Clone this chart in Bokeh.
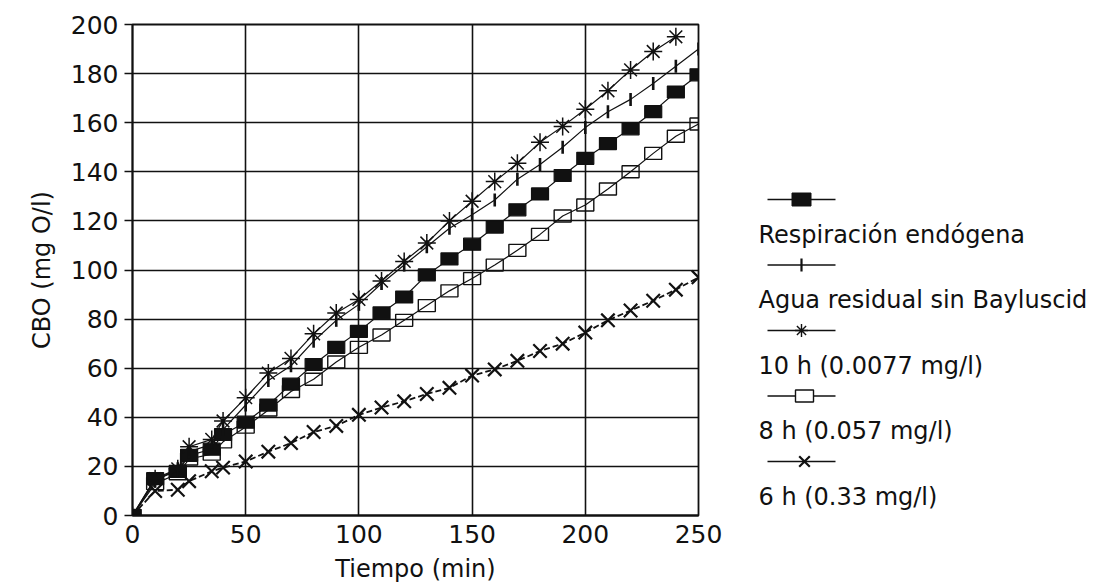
import numpy as np
from bokeh.plotting import figure
from bokeh.layouts import row
from bokeh.models import Range1d, FixedTicker
from bokeh.core.properties import value
from bokeh.embed import file_html
from bokeh.resources import INLINE

# Sampling times (min)
tiempo = [0, 10, 20, 25, 35, 40, 50, 60, 70, 80, 90, 100, 110, 120, 130, 140,
          150, 160, 170, 180, 190, 200, 210, 220, 230, 240, 250]

# CBO (mg O/l) for each trial
resp_endogena = [0, 15, 18, 24.5, 27, 33, 38, 45, 53.5, 61.5, 68.5, 75, 82.5, 89,
                 98, 104.5, 110.5, 117.5, 124.5, 131, 138.5, 145.5, 151.5, 157.5,
                 164.5, 172.5, 179.5]
agua_sin_bayluscid = [0, 14, 19, 26, 29, 35, 45, 55, 61, 71, 79.5, 86, 94.5, 102,
                      109.5, 117, 122.5, 128.5, 137, 143, 150, 158, 164.5, 169.5,
                      176, 183, 190]
h10 = [0, 15, 19, 28, 31, 38.5, 48, 58, 64, 74, 82.5, 88, 95.5, 103.5, 111, 120,
       128, 136, 143.5, 152, 158.5, 165.5, 173, 181.5, 189, 195]
h8 = [0, 13, 17, 23, 25, 30, 36, 43, 50.5, 55.5, 62.5, 68.5, 73.5, 79.5, 85.5,
      91.5, 96.5, 102, 108, 114.5, 122, 126.5, 133, 140, 147.5, 154.5, 159.5]
h6 = [0, 10, 10.5, 14, 18, 19.5, 22, 26, 29.5, 34, 36.5, 41, 44, 46.5, 49.5, 52,
      57, 59.5, 63, 67, 70, 74.5, 79.5, 83.5, 87.5, 92, 97]

series_labels = ["Respiración endógena", "Agua residual sin Bayluscid",
                 "10 h (0.0077 mg/l)", "8 h (0.057 mg/l)", "6 h (0.33 mg/l)"]

x_ticks = [0, 50, 100, 150, 200, 250]
y_ticks = list(range(0, 201, 20))

FONT = "DejaVu Sans"
INK = "#111111"

p = figure(width=740, height=585, output_backend="svg", toolbar_location=None,
           x_range=Range1d(0, 250), y_range=Range1d(0, 200),
           min_border_left=132, min_border_right=42, min_border_top=24,
           min_border_bottom=70)
p.background_fill_color = "white"
p.border_fill_color = "white"
p.outline_line_color = INK
p.outline_line_width = 1.8

for ax in (p.xaxis[0], p.yaxis[0]):
    ax.axis_line_color = INK
    ax.axis_line_width = 1.8
    ax.major_tick_line_color = INK
    ax.major_tick_line_width = 1.6
    ax.minor_tick_line_color = None
    ax.major_tick_in = 0
    ax.major_label_text_font = FONT
    ax.major_label_text_font_size = "25px"
    ax.major_label_text_color = INK
    ax.axis_label_text_font = FONT
    ax.axis_label_text_font_style = "normal"
    ax.axis_label_text_color = INK

p.xaxis.axis_label_text_font_size = "24px"
p.yaxis.axis_label_text_font_size = "24px"
p.xaxis.major_label_text_line_height = 1.0
p.xaxis.axis_label_text_line_height = 1.0
p.xaxis.ticker = FixedTicker(ticks=x_ticks)
p.yaxis.ticker = FixedTicker(ticks=y_ticks)
p.xaxis.major_tick_out = 0
p.yaxis.major_tick_out = 8
p.xaxis.major_label_standoff = 9
p.yaxis.major_label_standoff = 6
p.xaxis.axis_label = "Tiempo (min)"
p.yaxis.axis_label = "CBO (mg O/l)"
p.xaxis.axis_label_standoff = 9
p.yaxis.axis_label_standoff = 12

p.xgrid.ticker = FixedTicker(ticks=x_ticks)
p.ygrid.ticker = FixedTicker(ticks=y_ticks)
for g in (p.xgrid[0], p.ygrid[0]):
    g.grid_line_color = INK
    g.grid_line_width = 1.6

t10 = tiempo[:len(h10)]

# connecting lines
p.line(tiempo, h6, line_color=INK, line_width=1.8, line_dash="6 3")
p.line(tiempo, h8, line_color=INK, line_width=1.2)
p.line(tiempo, resp_endogena, line_color=INK, line_width=1.2)
p.line(tiempo, agua_sin_bayluscid, line_color=INK, line_width=1.2)
p.line(t10, h10, line_color=INK, line_width=1.2)

# markers
p.scatter(tiempo, h6, marker="x", size=19, line_color=INK, line_width=2.2)
p.rect(tiempo, h8, width=17, height=12, width_units="screen",
       height_units="screen", fill_alpha=0, line_color=INK, line_width=1.4)
p.rect(tiempo, resp_endogena, width=17, height=12, width_units="screen",
       height_units="screen", fill_color=INK, line_color=INK, line_width=1.2)
p.scatter(tiempo, agua_sin_bayluscid, marker="dash", angle=np.pi / 2, size=13,
          line_color=INK, line_width=2.6)
p.scatter(t10, h10, marker="asterisk", size=18, line_color=INK, line_width=1.5)

# key panel; its frame lines up with the chart frame (rows 24..515 of the page),
# so the ranges are given in page pixels over that band
leg = figure(width=364, height=585, output_backend="svg", toolbar_location=None,
             x_range=Range1d(740, 1104), y_range=Range1d(515, 24),
             x_axis_location=None, y_axis_location=None,
             min_border=0, min_border_left=0, min_border_right=0,
             min_border_top=24, min_border_bottom=70)
leg.grid.visible = False
leg.outline_line_color = None
leg.background_fill_color = "white"
leg.border_fill_color = "white"

row_y = [199 + 65.5 * i for i in range(len(series_labels))]
sx0, sx1, smid = 767, 835, 801
for yy in row_y:
    leg.line([sx0, sx1], [yy, yy], line_color=INK, line_width=1.4)

leg.rect([smid], [row_y[0]], width=19, height=13, fill_color=INK, line_color=INK)
leg.scatter([smid], [row_y[1]], marker="dash", angle=np.pi / 2, size=13,
            line_color=INK, line_width=2.2)
leg.scatter([smid], [row_y[2]], marker="asterisk", size=13, line_color=INK,
            line_width=1.4)
leg.rect([smid + 3], [row_y[3]], width=18, height=12, fill_color="white",
         line_color=INK, line_width=1.4)
leg.scatter([smid + 3], [row_y[4]], marker="x", size=15, line_color=INK,
            line_width=2.2)

leg.text([758] * len(series_labels), [yy + 35 for yy in row_y], text=series_labels,
         text_font=value(FONT), text_font_size="24px", text_color=INK,
         text_baseline="middle", text_align="left")

layout = row(p, leg)
open("out.html", "w").write(file_html(layout, INLINE))
